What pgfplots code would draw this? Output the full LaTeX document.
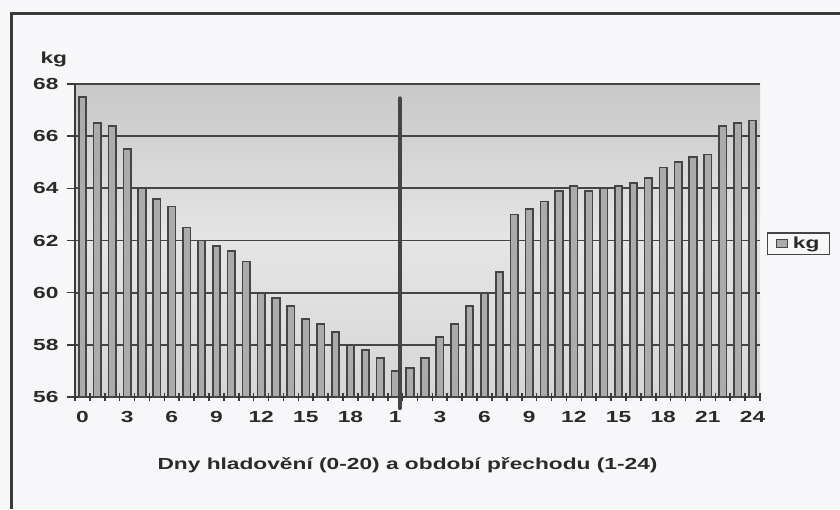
\documentclass[border=0pt]{standalone}
\usepackage{fontspec}
\usepackage{pgfplots}
\pgfplotsset{compat=1.18}
\newfontfamily\chartfont[FakeStretch=1.42]{Liberation Sans}
\newcommand\cf{\chartfont\bfseries\fontsize{16}{19}\selectfont}
\definecolor{bgcol}{HTML}{F7F7F9}
\definecolor{framecol}{HTML}{3A3A3A}
\definecolor{barfill}{HTML}{ABABAB}
\definecolor{bardraw}{HTML}{454545}
\definecolor{gridcol}{HTML}{454545}
\definecolor{txtcol}{HTML}{2A2A2A}
\definecolor{bgtop}{HTML}{C8C8C8}
\definecolor{bgmid}{HTML}{E5E5E5}
\definecolor{bgbot}{HTML}{D6D6D6}
\begin{document}
\begin{tikzpicture}[x=1pt,y=1pt]
\path[use as bounding box, fill=bgcol] (0,0) rectangle (840,509);
\draw[framecol, line width=3pt] (11.5,0) -- (11.5,495.5) -- (840,495.5);
\begin{axis}[
  at={(75pt,112pt)}, anchor=south west,
  scale only axis, width=685pt, height=313pt,
  xmin=-0.5, xmax=45.5, ymin=56, ymax=68,
  axis background/.style={top color=bgtop, bottom color=bgbot, middle color=bgmid},
  axis x line=bottom, axis y line=left,
  axis line style={-, framecol, line width=1.8pt},
  ytick={56,58,...,68},
  ymajorgrids, grid style={gridcol, line width=1.9pt},
  xtick={0,3,...,45},
  xticklabels={0,3,6,9,12,15,18,1,3,6,9,12,15,18,21,24},
  minor xtick={-0.5,0.5,...,45.5},
  major x tick style={draw=none},
  minor x tick style={framecol, line width=1.6pt},
  major y tick style={framecol, line width=1.6pt},
  xtick align=center, ytick align=outside,
  major tick length=8pt, minor tick length=8pt,
  /pgf/number format/assume math mode=true,
  ticklabel style={font=\cf, text=txtcol},
  xticklabel style={yshift=-7pt},
  yticklabel style={xshift=-5pt},
  xlabel={Dny hladovění (0-20) a období přechodu (1-24)},
  xlabel style={at={(axis description cs:0.4854,0)}, anchor=base, yshift=-72pt, font=\cf, text=txtcol},
  ylabel={kg},
  every axis y label/.style={at={(axis description cs:0,1)}, anchor=base west, xshift=-38pt, yshift=20pt, font=\cf, text=txtcol},
  legend style={at={(axis description cs:1,0.49)}, anchor=west, xshift=7pt, draw=gridcol, line width=1.3pt, fill=bgcol, font=\cf, text=txtcol, inner xsep=8pt, inner ysep=2pt},
  legend image code/.code={\draw[fill=barfill, draw=bardraw, line width=0.9pt] (0pt,-4pt) rectangle (11pt,4pt); \path (14pt,0pt);},
]
\addplot[ybar, bar width=0.5, fill=barfill, draw=bardraw, line width=1.7pt] coordinates {
(0,67.5) (1,66.5) (2,66.4) (3,65.5) (4,64.0) (5,63.6) (6,63.3) (7,62.5) (8,62.0) (9,61.8)
(10,61.6) (11,61.2) (12,60.0) (13,59.8) (14,59.5) (15,59.0) (16,58.8) (17,58.5) (18,58.0) (19,57.8)
(20,57.5) (21,57.0) (22,57.1) (23,57.5) (24,58.3) (25,58.8) (26,59.5) (27,60.0) (28,60.8) (29,63.0)
(30,63.2) (31,63.5) (32,63.9) (33,64.1) (34,63.9) (35,64.0) (36,64.1) (37,64.2) (38,64.4) (39,64.8)
(40,65.0) (41,65.2) (42,65.3) (43,66.4) (44,66.5) (45,66.6)
};
\addlegendentry{kg}
\end{axis}
\begin{axis}[
  at={(75pt,112pt)}, anchor=south west,
  scale only axis, width=685pt, height=313pt,
  xmin=-0.5, xmax=45.5, ymin=56, ymax=68,
  hide axis, clip=false,
]
\addplot[line width=4pt, color=bardraw, line cap=round] coordinates {(21.3,55.57) (21.3,67.45)};
\end{axis}
\end{tikzpicture}
\end{document}
